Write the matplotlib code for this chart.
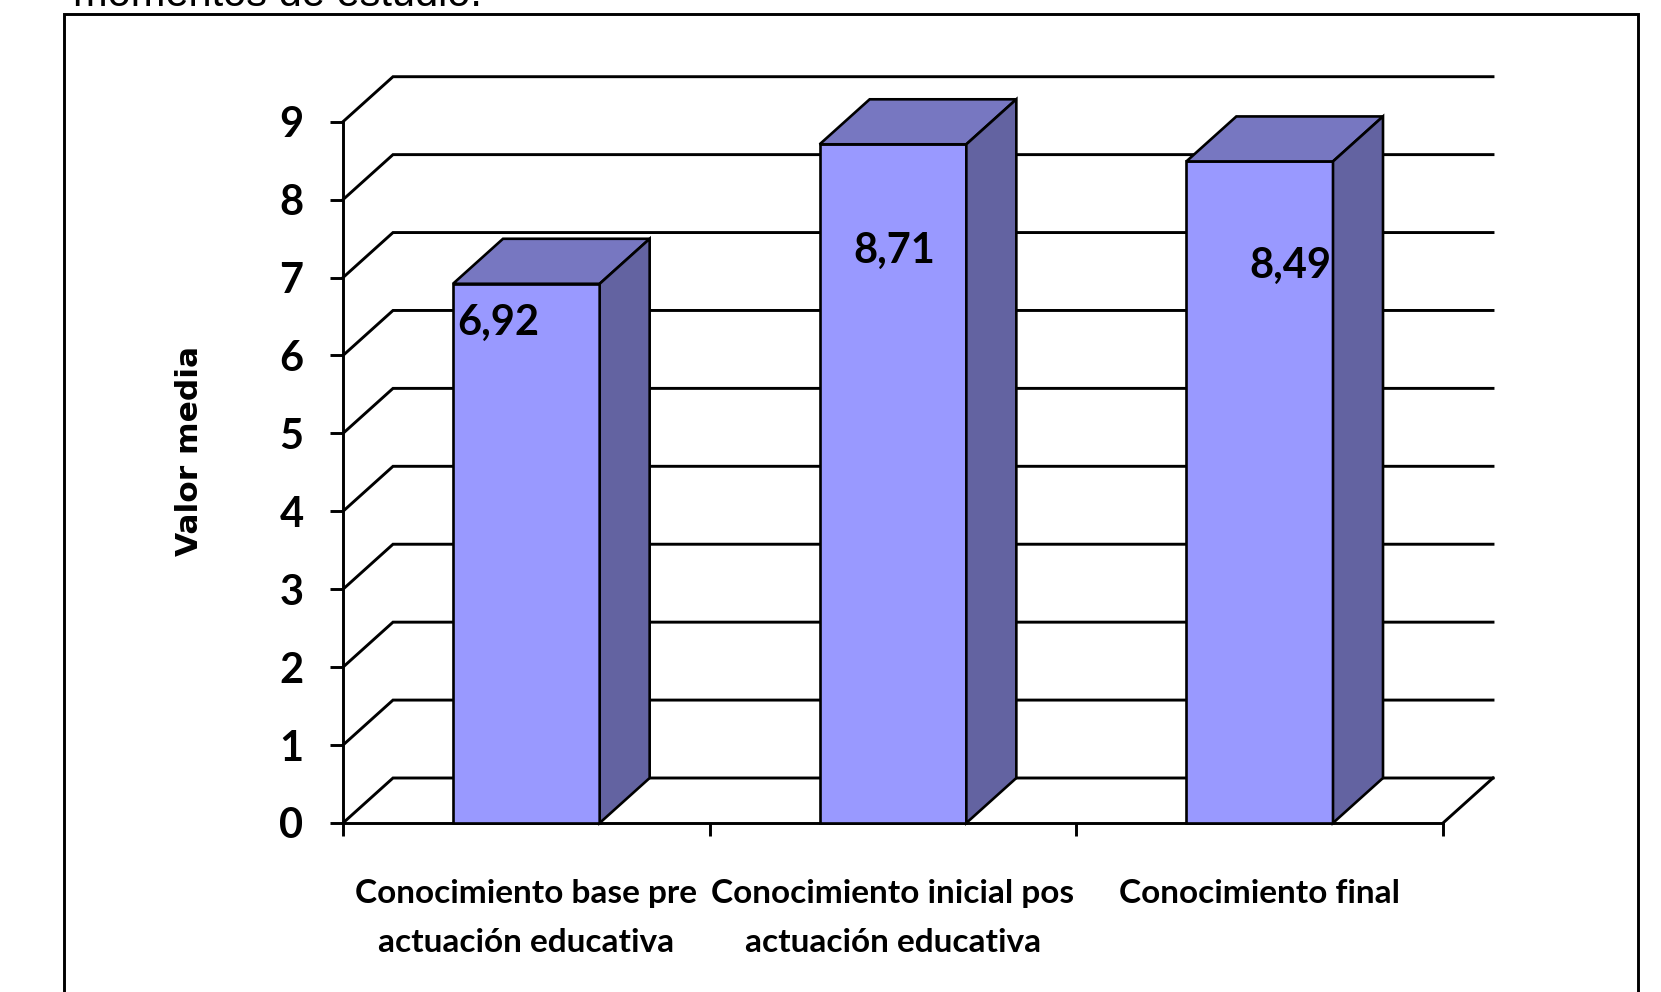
import matplotlib
matplotlib.use("Agg")
import matplotlib.pyplot as plt
from matplotlib.patches import Polygon, Rectangle
import numpy as np

# datos
categorias = ["Conocimiento base pre\nactuación educativa",
              "Conocimiento inicial pos\nactuación educativa",
              "Conocimiento final"]
valores = [6.92, 8.71, 8.49]
etiquetas = ["6,92", "8,71", "8,49"]
yticks = list(range(10))

plt.rcParams['font.family'] = ['Lato', 'DejaVu Sans']

W, H = 1661, 992
fig = plt.figure(figsize=(W / 100, H / 100), dpi=100)
ax = fig.add_axes([343 / W, 1 - 823 / H, (1443 - 343) / W, (823 - 121.7) / H])
ax.set_xlim(0, 3)
ax.set_ylim(0, 9)

# profundidad del efecto 3D (pixeles -> unidades de datos)
p0 = ax.transData.transform((0, 0))
p1 = ax.transData.transform((1, 1))
dx = 50 / (p1[0] - p0[0])
dy = 45 / (p1[1] - p0[1])

# pared del fondo y pared lateral
for v in yticks:
    ax.plot([0, dx, 3 + dx], [v, v + dy, v + dy], color="black", lw=2.1,
            clip_on=False, zorder=1, solid_joinstyle="miter")
ax.plot([3, 3 + dx], [0, dy], color="black", lw=2.1, clip_on=False, zorder=1)

# barras 3D
frente = "#9999FF"
arriba = "#7777C1"
lado = "#6363A1"
ancho = 0.40
xs = np.arange(len(valores)) + 0.5
for x, v in zip(xs, valores):
    x0, x1 = x - ancho / 2, x + ancho / 2
    ax.add_patch(Rectangle((x0, 0), ancho, v, fc=frente, ec="black", lw=1.9,
                           zorder=3, clip_on=False))
    ax.add_patch(Polygon([(x0, v), (x1, v), (x1 + dx, v + dy), (x0 + dx, v + dy)],
                         fc=arriba, ec="black", lw=1.9, zorder=3, clip_on=False,
                         joinstyle="miter"))
    ax.add_patch(Polygon([(x1, 0), (x1 + dx, dy), (x1 + dx, v + dy), (x1, v)],
                         fc=lado, ec="black", lw=1.9, zorder=3, clip_on=False,
                         joinstyle="miter"))

# etiquetas de valor
offsets = [(-28, -51), (1, -119), (31, -116)]
for x, v, lab, off in zip(xs, valores, etiquetas, offsets):
    ax.annotate(lab, (x, v), xytext=off, textcoords="offset pixels",
                ha="center", va="baseline", fontsize=30, fontweight="bold",
                zorder=5)

# ejes
for s in ["top", "right"]:
    ax.spines[s].set_visible(False)
for s in ["left", "bottom"]:
    ax.spines[s].set_linewidth(2.1)
ax.set_facecolor("none")

ax.set_yticks(yticks)
ax.tick_params(axis="y", length=9.5, width=2.1, pad=19, labelsize=30)
for t in ax.get_yticklabels():
    t.set_fontweight("bold")

ax.set_xticks([0, 1, 2, 3])
ax.set_xticklabels([])
ax.tick_params(axis="x", which="major", length=9.5, width=2.1)
ax.set_xticks(xs, minor=True)
ax.set_xticklabels(categorias, minor=True, fontsize=24, fontweight="bold",
                   linespacing=1.85)
ax.tick_params(axis="x", which="minor", length=0, pad=40)

fig.text(190 / W, 1 - 451 / H, "Valor media", rotation=90, ha="center",
         va="center", fontsize=22.5, fontweight="bold", family="DejaVu Sans")

# titulo recortado y marco
fig.text(73 / W, 1 - 6 / H, "momentos de estudio.", fontsize=30,
         family="Liberation Sans", va="baseline")
fig.patches.append(Rectangle((64 / W, -0.1), (1638 - 64) / W,
                             1.1 - 14 / H, transform=fig.transFigure,
                             fill=False, ec="black", lw=2.1))

fig.savefig("out.png", dpi=100)
